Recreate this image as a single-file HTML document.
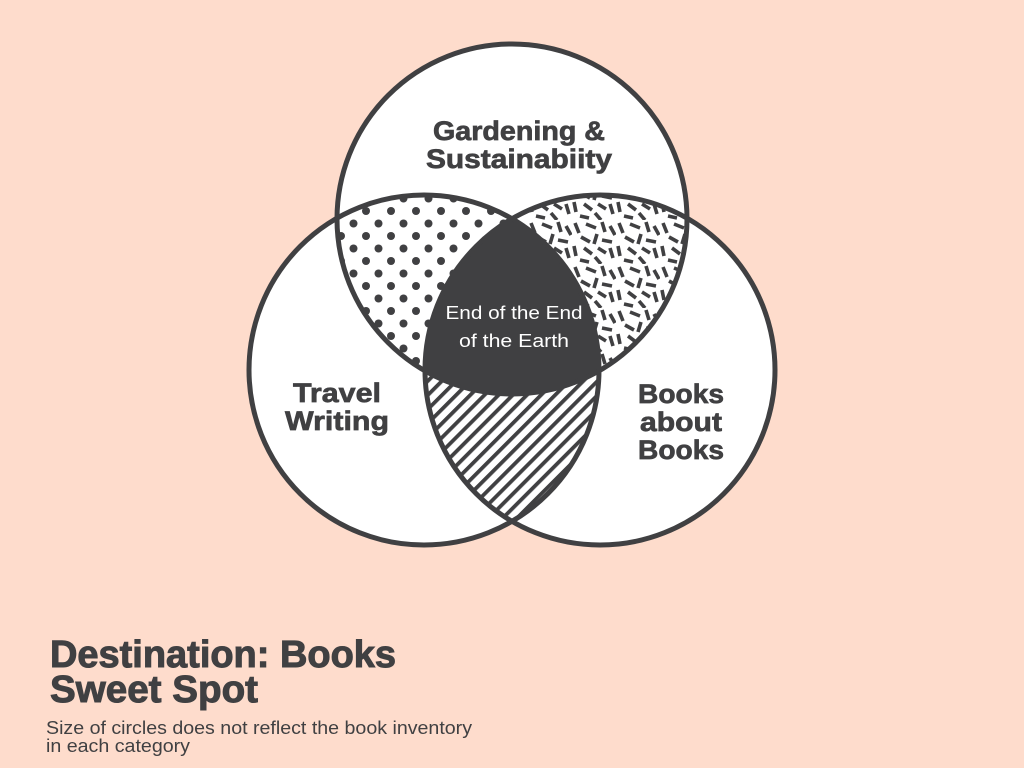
<!DOCTYPE html>
<html><head><meta charset="utf-8"><style>
html,body{margin:0;padding:0;background:#fedccc;}
svg{display:block;}
</style></head><body>
<svg width="1024" height="768" viewBox="0 0 1024 768" xmlns="http://www.w3.org/2000/svg">
<defs>
<clipPath id="cT"><circle cx="512" cy="219" r="175"/></clipPath>
<clipPath id="cL"><circle cx="424" cy="370" r="175"/></clipPath>
<clipPath id="cR"><circle cx="600" cy="370" r="175"/></clipPath>
<pattern id="dots" width="25" height="25" patternUnits="userSpaceOnUse" x="335" y="205">
<circle cx="6" cy="6" r="4" fill="#404042"/>
<circle cx="18.5" cy="18.5" r="4" fill="#404042"/>
</pattern>
<pattern id="stripes" width="10" height="10" patternUnits="userSpaceOnUse" patternTransform="rotate(-45)">
<rect x="0" y="0" width="10" height="3.8" fill="#404042"/>
</pattern>
<pattern id="dash" width="44" height="44" patternUnits="userSpaceOnUse">
<g stroke="#404042" stroke-width="3.6" stroke-linecap="butt">
<line x1="3" y1="3" x2="7" y2="13"/>
<line x1="14" y1="4" x2="24" y2="8"/>
<line x1="30" y1="2" x2="33" y2="12"/>
<line x1="38" y1="6" x2="43" y2="15"/>
<line x1="9" y1="17" x2="18" y2="22"/>
<line x1="25" y1="14" x2="22" y2="24"/>
<line x1="30" y1="20" x2="40" y2="22"/>
<line x1="2" y1="26" x2="4" y2="36"/>
<line x1="12" y1="28" x2="20" y2="34"/>
<line x1="26" y1="28" x2="34" y2="33"/>
<line x1="38" y1="28" x2="41" y2="38"/>
<line x1="8" y1="40" x2="17" y2="42"/>
<line x1="23" y1="37" x2="29" y2="44"/>
</g>
</pattern>
</defs>
<circle cx="512" cy="219" r="175" fill="#fff"/>
<circle cx="424" cy="370" r="175" fill="#fff"/>
<circle cx="600" cy="370" r="175" fill="#fff"/>
<g clip-path="url(#cL)"><g clip-path="url(#cR)"><rect x="0" y="0" width="1024" height="768" fill="url(#stripes)"/></g></g>
<g clip-path="url(#cT)"><g clip-path="url(#cR)"><rect x="0" y="0" width="1024" height="768" fill="url(#dash)"/></g></g>
<g clip-path="url(#cT)"><g clip-path="url(#cL)"><rect x="0" y="0" width="1024" height="768" fill="url(#dots)"/><circle cx="600" cy="370" r="175" fill="#404042"/></g></g>
<g fill="none" stroke="#404042" stroke-width="5">
<circle cx="512" cy="219" r="175"/>
<circle cx="424" cy="370" r="175"/>
<circle cx="600" cy="370" r="175"/>
</g>
<g font-family="Liberation Sans, sans-serif" font-weight="bold" fill="#404042" stroke="#404042" stroke-width="0.7" font-size="27" text-anchor="middle">
<text x="519" y="140" textLength="172" lengthAdjust="spacingAndGlyphs">Gardening &amp;</text>
<text x="519" y="168" textLength="186" lengthAdjust="spacingAndGlyphs">Sustainabiity</text>
<text x="337" y="402" textLength="88" lengthAdjust="spacingAndGlyphs">Travel</text>
<text x="337" y="430" textLength="104" lengthAdjust="spacingAndGlyphs">Writing</text>
<text x="681" y="403" textLength="86" lengthAdjust="spacingAndGlyphs">Books</text>
<text x="681" y="431" textLength="82" lengthAdjust="spacingAndGlyphs">about</text>
<text x="681" y="459" textLength="86" lengthAdjust="spacingAndGlyphs">Books</text>
</g>
<g font-family="Liberation Sans, sans-serif" fill="#fff" font-size="18" text-anchor="middle">
<text x="514" y="319" textLength="137" lengthAdjust="spacingAndGlyphs">End of the End</text>
<text x="514" y="347" textLength="110" lengthAdjust="spacingAndGlyphs">of the Earth</text>
</g>
<g font-family="Liberation Sans, sans-serif" font-weight="bold" fill="#404042" stroke="#404042" stroke-width="1" font-size="38">
<text x="50" y="667" textLength="346" lengthAdjust="spacingAndGlyphs">Destination: Books</text>
<text x="50" y="702" textLength="208" lengthAdjust="spacingAndGlyphs">Sweet Spot</text>
</g>
<g font-family="Liberation Sans, sans-serif" fill="#404042" font-size="18">
<text x="46" y="734" textLength="426" lengthAdjust="spacingAndGlyphs">Size of circles does not reflect the book inventory</text>
<text x="46" y="752" textLength="144" lengthAdjust="spacingAndGlyphs">in each category</text>
</g>
</svg>
</body></html>
